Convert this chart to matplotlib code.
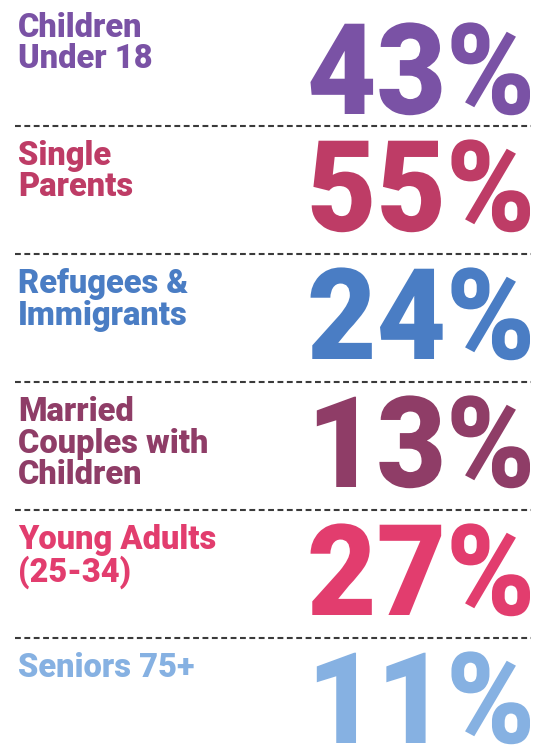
"""Infographic: share of groups, big-number rows with dashed separators."""

import matplotlib.pyplot as plt
from matplotlib.font_manager import FontProperties
from matplotlib.patches import PathPatch
from matplotlib.textpath import TextPath
from matplotlib.transforms import Affine2D

labels = [
    "Children\nUnder 18",
    "Single\nParents",
    "Refugees &\nImmigrants",
    "Married\nCouples with\nChildren",
    "Young Adults\n(25-34)",
    "Seniors 75+",
]
values = [43, 55, 24, 13, 27, 11]
colors = ["#7A52A5", "#BE3C66", "#4A7DC4", "#8F3D67", "#E23D6E", "#86B1E2"]

W, H = 542, 746
ROW_H = 128
ROW_TOP0 = -2
NUM_EM = 127        # em size of the big numbers, px
NUM_SX = 0.945      # horizontal squeeze of the big numbers
NUM_RIGHT = 530

plt.rcParams["font.family"] = ["Roboto", "DejaVu Sans"]
num_prop = FontProperties(family="Roboto", weight="black")

fig = plt.figure(figsize=(W / 100, H / 100), dpi=100)
ax = fig.add_axes([0, 0, 1, 1])
ax.set_xlim(0, W)
ax.set_ylim(H, 0)
ax.axis("off")

for i, (label, value, color) in enumerate(zip(labels, values, colors)):
    top = ROW_TOP0 + i * ROW_H
    ax.text(
        18, top + 14, label,
        color=color, fontsize=23.5, fontweight="black",
        ha="left", va="top", linespacing=0.98,
    )

    baseline = top + (116 if i == 0 else 105)
    path = TextPath((0, 0), f"{value}%", size=1, prop=num_prop)
    ext = path.get_extents()
    sx = NUM_EM * NUM_SX
    trans = Affine2D().scale(sx, -NUM_EM).translate(NUM_RIGHT - ext.x1 * sx, baseline)
    ax.add_patch(PathPatch(trans.transform_path(path), facecolor=color,
                           edgecolor="none"))

    if i > 0:
        ax.plot([15, 531], [top, top], color="#3a3a3a", lw=1.5,
                linestyle=(0, (2.8, 1.7)), solid_capstyle="butt")

fig.savefig("out.png", dpi=100, facecolor="white")
